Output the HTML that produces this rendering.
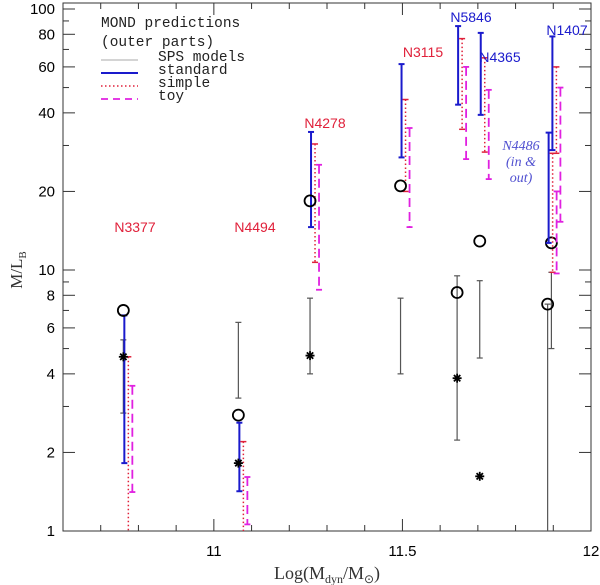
<!DOCTYPE html>
<html><head><meta charset="utf-8"><style>
html,body{margin:0;padding:0;background:#fff}
svg{display:block}
text{font-family:"Liberation Sans",sans-serif}
.mono{font-family:"Liberation Mono","DejaVu Sans Mono",monospace}
.serif{font-family:"Liberation Serif",serif}
</style></head><body>
<svg id="c" width="600" height="585" viewBox="0 0 600 585"></svg>
<script>
const galaxies=["N3377","N4494","N4278","N3115","N5846","N4365","N1407","N4486"];
const logM=[10.76,11.065,11.255,11.495,11.645,11.705,11.895,11.885];
const circleML=[7.0,2.78,18.4,21,8.2,12.9,12.7,7.4];
const starML=[4.65,1.82,4.7,null,3.85,1.62,null,null];
const spsLo=[2.83,3.23,4.0,4.0,2.23,4.6,5.0,1.0];
const spsHi=[5.4,6.3,7.8,7.8,9.5,9.1,9.8,7.4];
const stdLo=[1.82,1.42,14.6,27,43,39.3,28.8,12.7];
const stdHi=[6.7,2.6,33.8,61.5,86,81,78.5,33.6];
const simLo=[1.0,1.0,10.7,20,34.6,28.3,28,9.8];
const simHi=[4.65,2.2,30.4,45,77,65,60,28];
const toyLo=[1.41,1.06,8.4,14.6,26.6,22.3,15.3,9.7];
const toyHi=[3.6,1.61,25.3,35,60,49,50,20];
const yTicks=[1,2,4,6,8,10,20,40,60,80,100];
const yMinor=[3,5,7,9,30,50,70,90];
const xMajor=[11,11.5,12];

const L=63,R=591,T=3,B=531,xmin=10.6,xmax=12,dec=261;
const X=v=>L+(v-xmin)/(xmax-xmin)*(R-L);
const Y=v=>B-Math.log10(v)*dec;
const svg=document.getElementById('c');
const NS='http://www.w3.org/2000/svg';
function mk(tag,at,parent){const e=document.createElementNS(NS,tag);for(const k in at)e.setAttribute(k,at[k]);(parent||svg).appendChild(e);return e;}
function line(x1,y1,x2,y2,st,w,dash){return mk('line',{x1,y1,x2,y2,stroke:st,'stroke-width':w||1,'stroke-dasharray':dash||'none'});}

const fr=mk('rect',{x:L,y:T,width:R-L,height:B-T,fill:'none',stroke:'#333','stroke-width':1});


for(let i=0;i<=14;i++){const v=10.6+i*0.1;const x=X(v);const maj=Math.abs(v*2-Math.round(v*2))<1e-6;const len=maj?12:6;
 line(x,B,x,B-len,'#333');line(x,T,x,T+len,'#333');}
xMajor.forEach(v=>{const t=mk('text',{x:X(v),y:B+25,'text-anchor':'middle','font-size':15,fill:'#000'});t.textContent=String(v);
 
 });
yTicks.forEach(v=>{const y=Y(v);line(L,y,L+12,y,'#333');line(R,y,R-12,y,'#333');
 const t=mk('text',{x:L-8,y:y+5,'text-anchor':'end','font-size':15,fill:'#000'});t.textContent=String(v);
 
 });
yMinor.forEach(v=>{const y=Y(v);line(L,y,L+6,y,'#333');line(R,y,R-6,y,'#333');});

function bar(x,lo,hi,col,w,dash,name){const g=mk('g',{});
 
 
 mk('line',{x1:x,y1:Y(hi),x2:x,y2:Y(lo),stroke:col,'stroke-width':w,'stroke-dasharray':dash||'none'},g);
 if(lo>1.001)mk('line',{x1:x-3,y1:Y(lo),x2:x+3,y2:Y(lo),stroke:col,'stroke-width':w},g);
 mk('line',{x1:x-3,y1:Y(hi),x2:x+3,y2:Y(hi),stroke:col,'stroke-width':w},g);}

galaxies.forEach((g,i)=>{const x=X(logM[i]);
 bar(x,spsLo[i],spsHi[i],'#555',1.2,null,'sps-bar-'+g);
 bar(x+1,stdLo[i],stdHi[i],'#1a1acc',2,null,'standard-bar-'+g);
 bar(x+5,simLo[i],simHi[i],'#e0203a',1.5,'1.5,2.5','simple-bar-'+g);
 bar(x+9,toyLo[i],toyHi[i],'#e020e0',1.8,'9,5','toy-bar-'+g);
 const c=mk('circle',{cx:x,cy:Y(circleML[i]),r:5.5,fill:'none',stroke:'#000','stroke-width':1.8});
 
 
 if(starML[i]){const sy=Y(starML[i]);const s=mk('g',{stroke:'#000','stroke-width':1.8});
  
  
  for(let a=0;a<4;a++){const an=a*Math.PI/4;const dx=4.5*Math.cos(an),dy=4.5*Math.sin(an);
   mk('line',{x1:x-dx,y1:sy-dy,x2:x+dx,y2:sy+dy},s);}}
});

const labs=[["N3377",135,232,'#e0203a'],["N4494",255,232,'#e0203a'],["N4278",325,128,'#e0203a'],["N3115",423,57,'#e0203a'],["N5846",471,22,'#1a1acc'],["N4365",500,62,'#1a1acc'],["N1407",567,35,'#1a1acc']];
labs.forEach(l=>{const t=mk('text',{x:l[1],y:l[2],'text-anchor':'middle','font-size':14,fill:l[3]});t.textContent=l[0];
 
 });
const n4=mk('text',{x:521,y:150,'text-anchor':'middle','font-size':14,'font-style':'italic',fill:'#5050d0',class:'serif'});


[["N4486",0],["(in &",16],["out)",32]].forEach(p=>{const ts=mk('tspan',{x:521,y:150+p[1]},n4);ts.textContent=p[0];});

const lg=mk('g',{});


const tt=mk('text',{x:101,y:27,'font-size':14.5,fill:'#222',class:'mono'},lg);tt.textContent='MOND predictions';
const tt2=mk('text',{x:101,y:46,'font-size':14.5,fill:'#222',class:'mono'},lg);tt2.textContent='(outer parts)';
const items=[['SPS models','#aaa',1,null],['standard','#1a1acc',2,null],['simple','#e0203a',1.5,'1.5,2.5'],['toy','#e020e0',1.8,'7,5']];
items.forEach((it,i)=>{const y=60+i*13;mk('line',{x1:101,y1:y,x2:138,y2:y,stroke:it[1],'stroke-width':it[2],'stroke-dasharray':it[3]||'none'},lg);
 const t=mk('text',{x:158,y:y+1,'font-size':14.5,fill:'#222',class:'mono'},lg);t.textContent=it[0];
 
 });

const xt=mk('text',{x:327,y:579,'text-anchor':'middle','font-size':18,fill:'#333',class:'serif'});


xt.innerHTML='Log(M<tspan font-size="12" dy="4">dyn</tspan><tspan dy="-4">/M</tspan><tspan font-size="12" dy="4">⊙</tspan><tspan dy="-4">)</tspan>';
const yt=mk('text',{x:0,y:0,'text-anchor':'middle','font-size':17,fill:'#333',class:'serif',transform:'translate(22,270) rotate(-90)'});


yt.innerHTML='M/L<tspan font-size="11" dy="4">B</tspan>';
</script>
</body></html>
